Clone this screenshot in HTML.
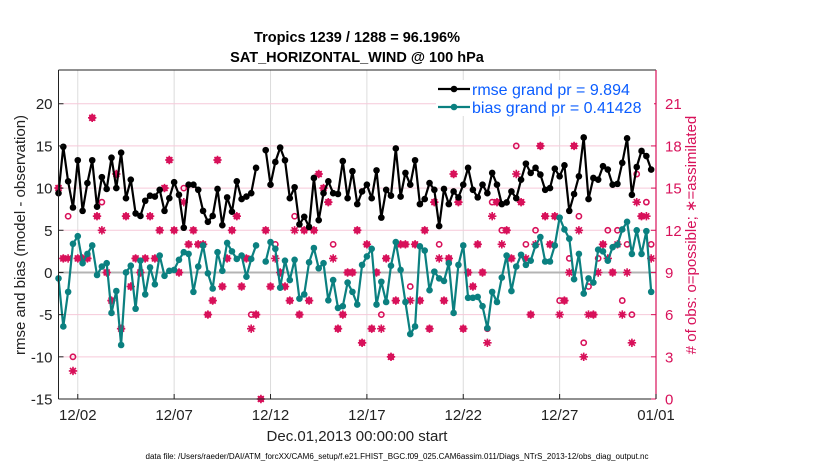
<!DOCTYPE html>
<html><head><meta charset="utf-8"><style>
body{margin:0;background:#fff;}
svg text{font-family:"Liberation Sans",sans-serif;}
</style></head><body>
<svg id="chart" width="830" height="470" xmlns="http://www.w3.org/2000/svg">
<rect width="830" height="470" fill="#fff"/>
<g id="grid"></g><g id="marks"></g><g id="axes"></g>
</svg>
<script>
const startDay = 1.0;
const stepDay = 0.25;
const rmse = [9.4,14.9,10.8,7.7,13.3,7.3,10.6,13.3,7.8,11.3,9.9,13.6,10,14.2,8.8,11,7,6.7,8.5,9.1,9,9.8,7.3,8.8,10.7,9.2,5.3,10.4,10.4,9.8,7.3,6.0,
6.7,9.9,5.6,8.9,7.2,10.8,8.7,9,9.4,12.4,null,14.5,10.4,13.1,14.8,13.3,8.8,10.1,5.7,6.6,5.4,11.2,6.2,9.4,10.8,9.4,9.3,13.2,8.8,12,8.1,
9.6,10.4,8.8,12.1,6.5,9.8,9.1,14.7,9,11.8,10.4,13.3,8.1,8.7,10.6,9.8,5.5,9.9,8.1,9.6,8.9,10.4,12.4,9.8,8.9,10.4,9.4,11.8,10.4,8.1,8.3,
9.6,8.8,11,12.9,11.8,12.4,11.6,9.8,10,12.3,11.4,12.7,7.3,9.3,11.4,16,8.7,11.2,11,12.6,12.2,10.4,10.5,13,15.9,9.2,12.5,14.4,13.8,12.2];
const bias = [-0.7,-6.4,-2.3,3.4,4.3,1.1,2.2,3.2,-0.3,0.7,1.1,-4.8,-2.2,-8.6,0,0.8,-4.3,1.4,-2.6,0.6,-1.4,2,-0.4,0.2,0.3,1.5,2.4,2.2,-2.3,0.7,3.2,-0.1,
-1.9,2.4,0.2,3.5,2.5,1.6,2,-0.5,1.6,3.2,null,1.3,3.6,2.8,-1.8,1.4,-0.9,1.5,-3.1,-2.6,1.2,2.9,0.5,1.1,-3.3,-0.9,-4.2,-4,-1.2,-2.3,-3.8,
0.9,1.9,2.8,-3.8,-1.1,-3.5,0.8,3.6,0.3,-3.5,-7.3,-6.4,3.1,2.6,-2.1,0.1,-0.7,-1,1.1,-4.8,0.9,3.2,-3,-3,-2.9,-4,-6.6,-2.3,-3.5,-0.6,2,
-2.2,0.7,2.1,0.9,1.4,3.2,4.2,1.3,1.3,3.2,6.5,5.1,4,-0.8,2.2,-2.5,-0.7,-1.2,2.7,2.5,1.4,3,3.3,5.1,6,2.2,5,2.2,4.9,-2.3];
const assim = [15,10,10,2,10,10,10,20,13,12,9,7,16,5,13,8,10,9,10,13,10,12,15,17,12,9,14,11,12,11,11,6,
7,17,8,10,12,13,8,10,5,6,0,12,8,10,9,8,7,12,6,12,7,12,16,15,14,10,5,6,9,9,12,
4,11,5,9,5,10,3,7,11,11,7,11,7,12,5,14,10,7,10,16,14,5,9,8,11,9,4,13,14,11,
12,10,16,14,10,6,11,18,13,11,13,6,7,9,18,12,3,6,6,9,11,10,9,11,6,9,4,14,13,13,10];
const poss = [15,10,13,3,10,10,10,20,13,14,9,7,16,5,13,8,10,9,10,13,10,12,15,17,12,9,15,11,12,11,11,6,
7,17,8,10,12,13,8,10,6,6,0,12,8,11,9,8,7,13,6,12,7,12,16,15,14,11,5,6,9,9,12,
4,11,5,9,6,10,3,7,11,11,8,11,7,12,5,14,11,7,10,16,14,5,9,8,11,9,5,14,14,12,
12,10,18,14,11,6,12,18,13,11,13,7,7,10,18,13,4,8,6,10,11,12,9,12,7,11,6,16,13,14,11];
const leftTicks = [-15,-10,-5,0,5,10,15,20];
const rightTicks = [0,3,6,9,12,15,18,21];
const xTickDays = [2,7,12,17,22,27,32];
const xTickLabels = ["12/02","12/07","12/12","12/17","12/22","12/27","01/01"];

const PL=58.5, PR=656, PT=70, PB=399;
const D0=1.0, D1=32;
const Y0=-15, Y1=24;
const xs = d => PL + (d-D0)/(D1-D0)*(PR-PL);
const ys = v => PB - (v-Y0)/(Y1-Y0)*(PB-PT);
const yr = r => ys((r-9)/0.6);
const NS="http://www.w3.org/2000/svg";
function mk(parent,tag,attrs){const e=document.createElementNS(NS,tag);for(const k in attrs)e.setAttribute(k,attrs[k]);parent.appendChild(e);return e;}
const grid=document.getElementById('grid'), marks=document.getElementById('marks'), axes=document.getElementById('axes');
const MAG="#d8115a", TEAL="#0b8080";

xTickDays.forEach(d=>{const l=mk(grid,'line',{x1:xs(d),x2:xs(d),y1:PT,y2:PB,stroke:'#dcdcdc','stroke-width':1});

});
rightTicks.forEach(r=>{if(r===0)return;const l=mk(grid,'line',{x1:PL,x2:PR,y1:yr(r),y2:yr(r),stroke:'#f6c9d9','stroke-width':1});

});
const z=mk(grid,'line',{x1:PL,x2:PR,y1:ys(0),y2:ys(0),stroke:'#b4b4b4','stroke-width':2});



function star(g,cx,cy){
  const s=mk(g,'g',{});
  const r=4.2;
  let d='';
  for(let k=0;k<4;k++){const a=k*Math.PI/4;d+='M'+(cx-r*Math.cos(a)).toFixed(1)+' '+(cy-r*Math.sin(a)).toFixed(1)+'L'+(cx+r*Math.cos(a)).toFixed(1)+' '+(cy+r*Math.sin(a)).toFixed(1);}
  mk(s,'path',{d:d,stroke:MAG,'stroke-width':1.6,fill:'none'});
  mk(s,'circle',{cx:cx,cy:cy,r:2.6,fill:MAG});
  return s;
}
const obsG=mk(marks,'g',{});


poss.forEach((r,i)=>{if(r==null)return;const c=mk(obsG,'circle',{cx:xs(startDay+i*stepDay),cy:yr(r),r:2.6,fill:'none',stroke:MAG,'stroke-width':1.6});

});
assim.forEach((r,i)=>{if(r==null)return;const s=star(obsG,xs(startDay+i*stepDay),yr(r));

});

function series(arr,color,name){
  const g=mk(marks,'g',{});
  
  
  let d='',pen=false;
  arr.forEach((v,i)=>{if(v==null){pen=false;return;}const x=xs(startDay+i*stepDay),y=ys(v);d+=(pen?'L':'M')+x.toFixed(1)+' '+y.toFixed(1);pen=true;});
  mk(g,'path',{d:d,fill:'none',stroke:color,'stroke-width':2.2,'stroke-linejoin':'round'});
  arr.forEach((v,i)=>{if(v==null)return;const c=mk(g,'circle',{cx:xs(startDay+i*stepDay),cy:ys(v),r:3.3,fill:color});
  
  });
}
series(bias,TEAL,'bias-series');
series(rmse,'#000','rmse-series');

mk(axes,'line',{x1:PL,x2:PR,y1:PT,y2:PT,stroke:'#222','stroke-width':1});
mk(axes,'line',{x1:PL,x2:PR,y1:PB,y2:PB,stroke:'#222','stroke-width':1});
mk(axes,'line',{x1:PL,x2:PL,y1:PT,y2:PB,stroke:'#222','stroke-width':1});
mk(axes,'line',{x1:PR,x2:PR,y1:PT,y2:PB,stroke:MAG,'stroke-width':1.2});
leftTicks.forEach(v=>{mk(axes,'line',{x1:PL,x2:PL+5,y1:ys(v),y2:ys(v),stroke:'#222'});
const t=mk(axes,'text',{x:PL-6,y:ys(v)+5.5,'text-anchor':'end','font-size':15,fill:'#222'});t.textContent=v;

});
rightTicks.forEach(r=>{mk(axes,'line',{x1:PR-5,x2:PR,y1:yr(r),y2:yr(r),stroke:MAG});
const t=mk(axes,'text',{x:PR+9,y:yr(r)+5.5,'font-size':15,fill:MAG});t.textContent=r;

});
xTickDays.forEach((d,i)=>{mk(axes,'line',{x1:xs(d),x2:xs(d),y1:PB-5,y2:PB,stroke:'#222'});
const t=mk(axes,'text',{x:xs(d),y:420,'text-anchor':'middle','font-size':15,fill:'#222'});t.textContent=xTickLabels[i];

});
</script>
<svg style="position:absolute;left:0;top:0" width="830" height="470" xmlns="http://www.w3.org/2000/svg">
<text x="357" y="42" text-anchor="middle" font-size="14.5" font-weight="bold" fill="#000">Tropics 1239 / 1288 = 96.196%</text>
<text x="357" y="62" text-anchor="middle" font-size="14.5" font-weight="bold" fill="#000">SAT_HORIZONTAL_WIND @ 100 hPa</text>
<text transform="translate(25,235) rotate(-90)" text-anchor="middle" font-size="15" fill="#222">rmse and bias (model - observation)</text>
<text transform="translate(696,235) rotate(-90)" text-anchor="middle" font-size="15" fill="#d8115a"># of obs: o=possible; ∗=assimilated</text>
<text x="357" y="441" text-anchor="middle" font-size="15" fill="#222">Dec.01,2013 00:00:00 start</text>
<text x="397" y="459" text-anchor="middle" font-size="8" fill="#000" textLength="503" lengthAdjust="spacingAndGlyphs">data file: /Users/raeder/DAI/ATM_forcXX/CAM6_setup/f.e21.FHIST_BGC.f09_025.CAM6assim.011/Diags_NTrS_2013-12/obs_diag_output.nc</text>
<g>
<rect x="436" y="80" width="218" height="36" fill="#fff"/>
<g>
<line x1="438" y1="89" x2="470" y2="89" stroke="#000" stroke-width="2.2"/><circle cx="454" cy="89" r="3.3" fill="#000"/>
<text x="472" y="95" font-size="16" fill="#0a5cff">rmse grand pr = 9.894</text></g>
<g>
<line x1="438" y1="107" x2="470" y2="107" stroke="#0b8080" stroke-width="2.2"/><circle cx="454" cy="107" r="3.3" fill="#0b8080"/>
<text x="472" y="113" font-size="16" fill="#0a5cff">bias grand pr = 0.41428</text></g>
</g>
</svg>
</body></html>
